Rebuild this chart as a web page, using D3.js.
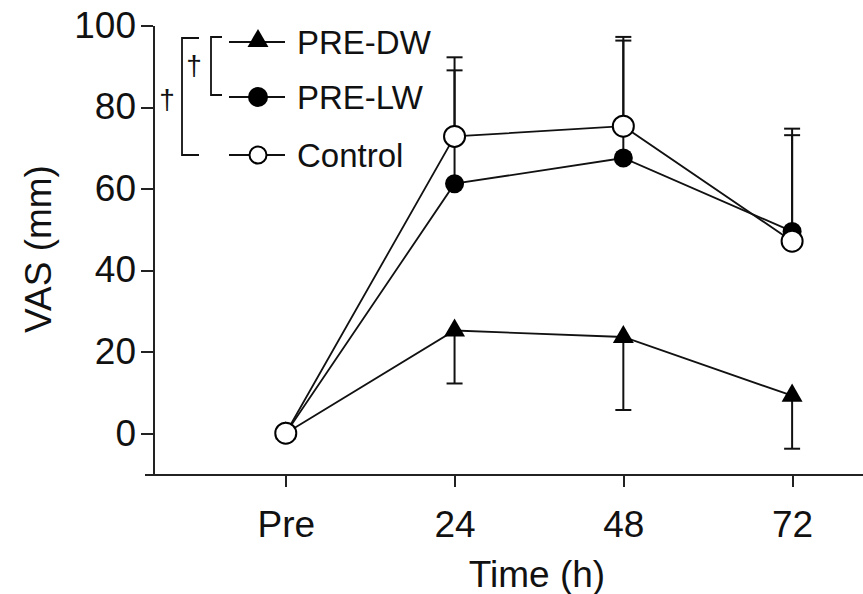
<!DOCTYPE html>
<html lang="en">
<head>
    <meta charset="UTF-8">
    <title>VAS over time</title>
    <script src="https://d3js.org/d3.v7.min.js"></script>
    <style>
        body { margin: 0; background: #fff; }
        text { font-family: "Liberation Sans", Arial, Helvetica, sans-serif; fill: #111; }
        .axis path, .axis line { stroke: #222; stroke-width: 2; shape-rendering: crispEdges; }
        .axis text { font-size: 37px; }
    </style>
</head>
<body>
    <svg width="863" height="594"></svg>

    <script>
        // data
        const categories = ["Pre", "24", "48", "72"];
        const dwMean   = [0, 25.2, 23.6, 9.2];
        const dwSD     = [0, 13.0, 17.9, 13.0];
        const lwMean   = [0, 61.2, 67.5, 49.5];
        const lwSD     = [0, 27.8, 28.8, 23.6];
        const ctrlMean = [0, 72.8, 75.3, 47.1];
        const ctrlSD   = [0, 19.4, 21.9, 27.6];
        const yTicks   = [0, 20, 40, 60, 80, 100];

        const svg = d3.select("svg");

        // x positions by index, axis line runs past the first and last point
        const x = d3.scaleLinear().domain([-0.84, 3.42]).range([144, 863]);
        const y = d3.scaleLinear().domain([-10, 100]).range([474, 25.5]);

        // y axis
        svg.append("g")
            .attr("class", "axis")
            .attr("transform", "translate(153,0)")
            .call(d3.axisLeft(y).tickValues(yTicks).tickSize(12).tickSizeOuter(0).tickPadding(5));

        // x axis
        svg.append("g")
            .attr("class", "axis")
            .attr("transform", "translate(0,474)")
            .call(d3.axisBottom(x).tickValues([0, 1, 2, 3]).tickFormat(i => categories[i])
                .tickSize(13).tickSizeOuter(0).tickPadding(24));

        // axis titles
        svg.append("text")
            .attr("x", 537).attr("y", 587)
            .attr("text-anchor", "middle")
            .style("font-size", "37px")
            .text("Time (h)");

        svg.append("text")
            .attr("transform", "translate(51,249) rotate(-90)")
            .attr("text-anchor", "middle")
            .style("font-size", "37px")
            .text("VAS (mm)");

        const series = [
            {name: "PRE-DW",  mean: dwMean,   sd: dwSD,   dir: -1},
            {name: "PRE-LW",  mean: lwMean,   sd: lwSD,   dir: 1},
            {name: "Control", mean: ctrlMean, sd: ctrlSD, dir: 1}
        ];

        const line = d3.line().x((d, i) => x(i)).y(d => y(d));

        // connecting lines
        series.forEach(s => {
            svg.append("path")
                .datum(s.mean)
                .attr("d", line)
                .attr("fill", "none")
                .attr("stroke", "#111")
                .attr("stroke-width", 1.8);
        });

        // error bars (one-sided)
        series.forEach(s => {
            const g = svg.append("g");
            s.mean.forEach((m, i) => {
                if (s.sd[i] === 0) return;
                const end = m + s.dir * s.sd[i];
                g.append("line")
                    .attr("x1", x(i)).attr("x2", x(i))
                    .attr("y1", y(m)).attr("y2", y(end))
                    .attr("stroke", "#111").attr("stroke-width", 2);
                g.append("line")
                    .attr("x1", x(i) - 8).attr("x2", x(i) + 8)
                    .attr("y1", y(end)).attr("y2", y(end))
                    .attr("stroke", "#111").attr("stroke-width", 2);
            });
        });

        // markers
        const tri = d3.symbol().type(d3.symbolTriangle).size(190);

        svg.append("g").selectAll("path")
            .data(dwMean).enter().append("path")
            .attr("d", tri)
            .attr("transform", (d, i) => "translate(" + x(i) + "," + y(d) + ")")
            .attr("fill", "#000");

        svg.append("g").selectAll("circle")
            .data(lwMean).enter().append("circle")
            .attr("cx", (d, i) => x(i)).attr("cy", d => y(d))
            .attr("r", 9.5).attr("fill", "#000");

        svg.append("g").selectAll("circle")
            .data(ctrlMean).enter().append("circle")
            .attr("cx", (d, i) => x(i)).attr("cy", d => y(d))
            .attr("r", 10.5).attr("fill", "#fff")
            .attr("stroke", "#000").attr("stroke-width", 2);

        // legend
        const legendY = [42, 97, 155];
        series.forEach((s, k) => {
            const ly = legendY[k];
            svg.append("line")
                .attr("x1", 229).attr("x2", 285).attr("y1", ly).attr("y2", ly)
                .attr("stroke", "#111").attr("stroke-width", 1.8);
            if (k === 0) {
                svg.append("path").attr("d", tri).attr("transform", "translate(258," + (ly - 1) + ")").attr("fill", "#000");
            } else if (k === 1) {
                svg.append("circle").attr("cx", 258).attr("cy", ly).attr("r", 10).attr("fill", "#000");
            } else {
                svg.append("circle").attr("cx", 258).attr("cy", ly).attr("r", 8.5)
                    .attr("fill", "#fff").attr("stroke", "#000").attr("stroke-width", 2);
            }
            svg.append("text")
                .attr("x", 297).attr("y", ly + 12)
                .style("font-size", "33px")
                .text(s.name);
        });

        // significance brackets
        const bracket = (bx, y1, y2, w) => {
            svg.append("path")
                .attr("d", "M" + (bx + w) + "," + y1 + "H" + bx + "V" + y2 + "H" + (bx + w))
                .attr("fill", "none").attr("stroke", "#111").attr("stroke-width", 1.8);
        };
        bracket(211, 37, 95, 11);
        bracket(182, 38, 155, 17);

        svg.append("text").attr("x", 194).attr("y", 75).attr("text-anchor", "middle")
            .style("font-size", "28px").text("†");
        svg.append("text").attr("x", 167).attr("y", 109).attr("text-anchor", "middle")
            .style("font-size", "28px").text("†");
    </script>
</body>
</html>
